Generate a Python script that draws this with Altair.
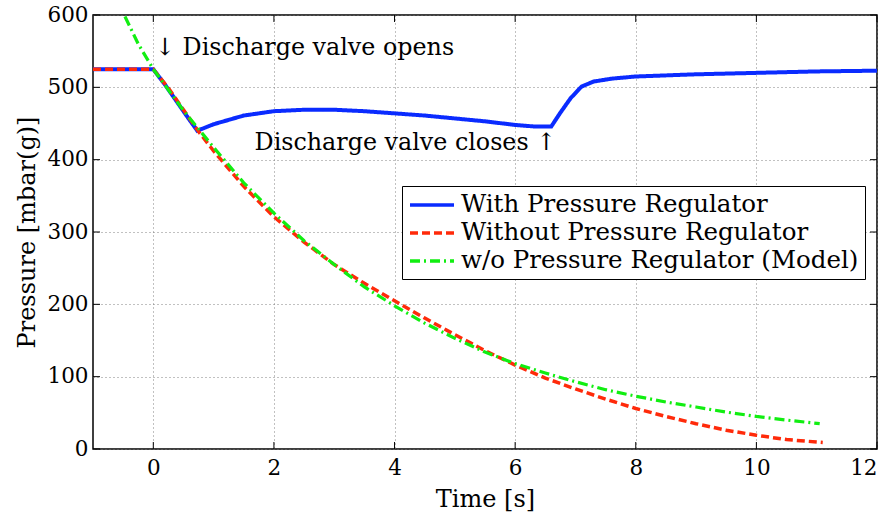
import altair as alt
import pandas as pd

# Measured pressure traces (time in s, pressure in mbar(g))
with_t = [-1, 0, 0.2, 0.4, 0.6, 0.73, 1.0, 1.5, 2.0, 2.5, 3.0, 3.5, 4.0, 4.5, 5.0,
          5.5, 6.0, 6.3, 6.6, 6.75, 6.92, 7.1, 7.3, 7.6, 8.0, 9.0, 10.0, 11.0, 12.0]
with_p = [525, 525, 503, 479, 455, 440, 449, 461, 467, 469, 469, 467, 464, 461, 457,
          453, 448, 446, 446, 465, 485, 501, 508, 512, 515, 518, 520, 522, 523]

without_t = [-1, 0, 0.25, 0.5, 0.75, 1, 1.5, 2, 2.5, 3, 3.5, 4, 4.5, 5, 5.5, 6,
             6.5, 7, 7.5, 8, 8.5, 9, 9.5, 10, 10.5, 11.1]
without_p = [525, 525, 499, 469, 439, 412, 363, 321, 286, 255, 229, 205, 181, 158, 136, 116,
             98, 83, 69, 56, 45, 35, 26, 19, 13, 9]

model_t = [-0.47, -0.25, 0, 0.5, 1, 1.5, 2, 2.5, 3, 3.5, 4, 4.5, 5, 5.5, 6, 6.5,
           7, 7.5, 8, 8.5, 9, 9.5, 10, 10.5, 11.05]
model_p = [598, 560, 525, 468, 417, 368, 326, 288, 255, 224, 198, 174, 153, 134, 118, 105,
           93, 82, 73, 65, 58, 51, 45, 40, 35]

series_names = ["With Pressure Regulator", "Without Pressure Regulator",
                "w/o Pressure Regulator (Model)"]
series_colors = ["#0a2bff", "#ff2a0a", "#11ee11"]
series_dashes = [[1, 0], [8, 4], [10, 4, 2, 4]]

x_ticks = [0, 2, 4, 6, 8, 10, 12]
y_ticks = [0, 100, 200, 300, 400, 500, 600]

notes = ["\u2193 Discharge valve opens", "Discharge valve closes \u2191"]
note_t = [0.03, 6.68]
note_p = [555, 423]
note_align = ["left", "right"]

FONT = "DejaVu Serif"
W, H = 784, 434

frames = []
for name, ts, ps in zip(series_names, [with_t, without_t, model_t],
                        [with_p, without_p, model_p]):
    frames.append(pd.DataFrame({"t": ts, "p": ps, "series": name}))
df = pd.concat(frames, ignore_index=True)

x_scale = alt.Scale(domain=[-1, 12], nice=False, zero=False)
y_scale = alt.Scale(domain=[0, 600], nice=False)

x_enc = alt.X("t:Q", scale=x_scale, title="Time [s]",
              axis=alt.Axis(values=x_ticks, format="d", grid=True, ticks=False,
                            domain=False, labelPadding=8, titlePadding=9))
y_enc = alt.Y("p:Q", scale=y_scale, title="Pressure [mbar(g)]",
              axis=alt.Axis(values=y_ticks, format="d", grid=True, ticks=False,
                            domain=False, labelPadding=5, titlePadding=7))

# Wide horizontal line symbol whose layout footprint stays one text line tall
legend_opts = dict(
    title=None, orient="none", legendX=309, legendY=171,
    symbolType="M-2,0H2", symbolSize=484, symbolStrokeWidth=3.5, symbolOffset=11,
    labelFont=FONT, labelFontSize=24.5, labelColor="black", labelLimit=0,
    labelOffset=16, rowPadding=3, padding=6,
    strokeColor="black", fillColor="white", cornerRadius=0,
)
color_enc = alt.Color("series:N", scale=alt.Scale(domain=series_names, range=series_colors),
                      legend=alt.Legend(**legend_opts))
dash_enc = alt.StrokeDash("series:N", scale=alt.Scale(domain=series_names, range=series_dashes),
                          legend=alt.Legend(**legend_opts))

widths = [4, 3.5, 3.2]
layers = []
for name, w in zip(series_names, widths):
    layers.append(
        alt.Chart(df).transform_filter(alt.datum.series == name)
        .mark_line(strokeWidth=w, clip=True)
        .encode(x=x_enc, y=y_enc, color=color_enc, strokeDash=dash_enc)
    )

# Inward tick marks on all four sides
xt = pd.DataFrame({"t": x_ticks})
yt = pd.DataFrame({"p": y_ticks})
tick_x_bottom = alt.Chart(xt).mark_rule(color="black", strokeWidth=1).encode(
    x=alt.X("t:Q", scale=x_scale), y=alt.value(H), y2=alt.value(H - 7))
tick_x_top = alt.Chart(xt).mark_rule(color="black", strokeWidth=1).encode(
    x=alt.X("t:Q", scale=x_scale), y=alt.value(0), y2=alt.value(7))
tick_y_left = alt.Chart(yt).mark_rule(color="black", strokeWidth=1).encode(
    y=alt.Y("p:Q", scale=y_scale), x=alt.value(0), x2=alt.value(7))
tick_y_right = alt.Chart(yt).mark_rule(color="black", strokeWidth=1).encode(
    y=alt.Y("p:Q", scale=y_scale), x=alt.value(W), x2=alt.value(W - 7))

notes_df = pd.DataFrame({"t": note_t, "p": note_p, "label": notes, "align": note_align})
note_left = alt.Chart(notes_df[notes_df["align"] == "left"]).mark_text(
    font=FONT, fontSize=23.8, align="left", baseline="middle", color="black"
).encode(x=alt.X("t:Q", scale=x_scale), y=alt.Y("p:Q", scale=y_scale), text="label:N")
note_right = alt.Chart(notes_df[notes_df["align"] == "right"]).mark_text(
    font=FONT, fontSize=23.8, align="right", baseline="middle", color="black"
).encode(x=alt.X("t:Q", scale=x_scale), y=alt.Y("p:Q", scale=y_scale), text="label:N")

chart = alt.layer(
    *layers, tick_x_bottom, tick_x_top, tick_y_left, tick_y_right, note_left, note_right
).properties(
    width=W, height=H,
    autosize=alt.AutoSizeParams(type="none"),
    padding={"left": 93, "top": 15, "right": 18, "bottom": 66},
    background="white",
).configure_view(
    stroke="black", strokeWidth=1.5
).configure_axis(
    labelFont=FONT, labelFontSize=21.5, labelColor="black",
    titleFont=FONT, titleFontSize=24, titleColor="black", titleFontWeight="normal",
    gridColor="#777777", gridDash=[1, 3], gridWidth=1, gridOpacity=0.9,
)

chart.save("out.html", embed_options={"renderer": "svg", "actions": False})
